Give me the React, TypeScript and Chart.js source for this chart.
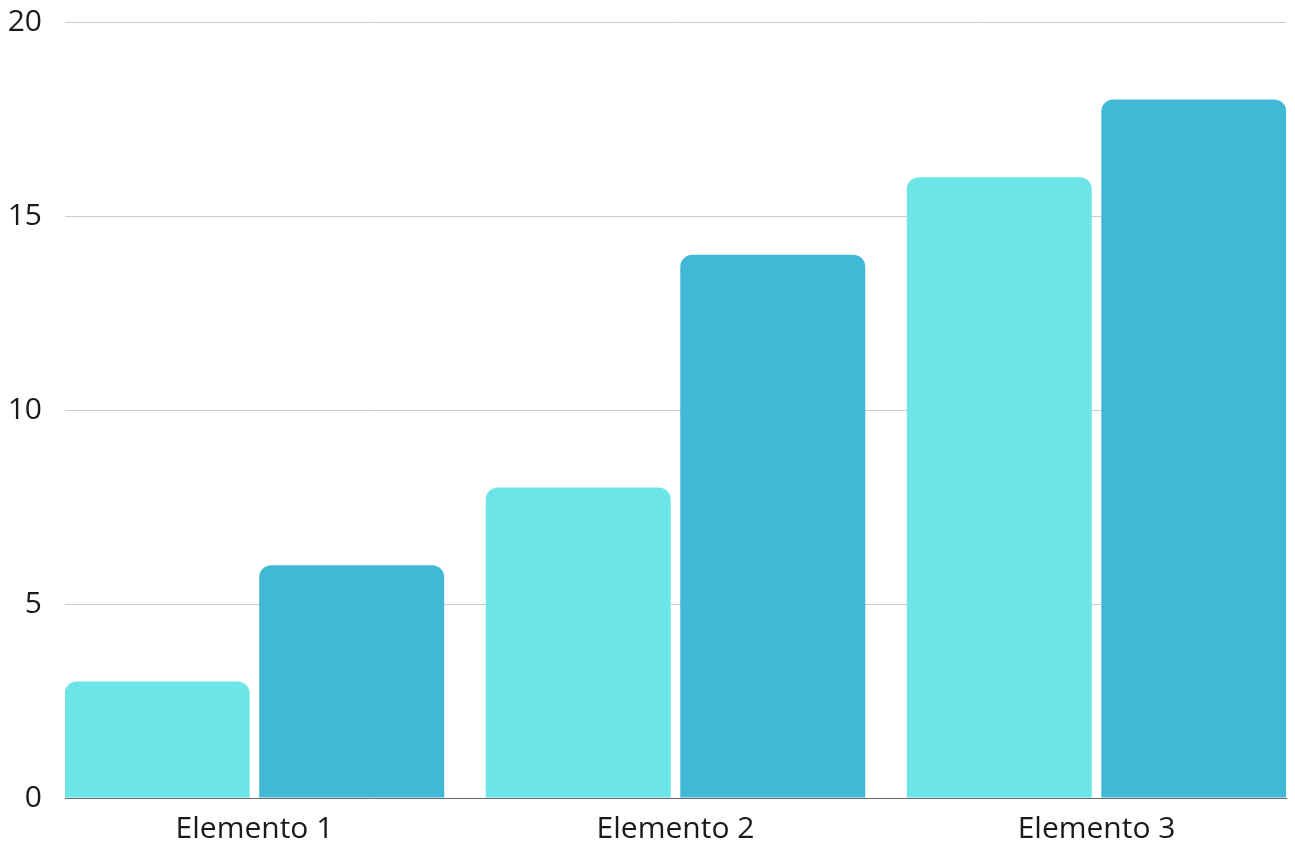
import React, { useEffect, useRef } from "react";
import { Chart, registerables } from "chart.js";

Chart.register(...registerables);

const categories = ["Elemento 1", "Elemento 2", "Elemento 3"];
const seriesA = [3, 8, 16];
const seriesB = [6, 14, 18];
const yTicks = [0, 5, 10, 15, 20];

export default function App() {
  const ref = useRef<HTMLCanvasElement | null>(null);

  useEffect(() => {
    document.body.style.margin = "0";
    if (!ref.current) return;
    const font = { family: "'Open Sans', sans-serif", size: 30 };
    const chart = new Chart(ref.current, {
      type: "bar",
      data: {
        datasets: [
          {
            label: "Serie 1",
            data: seriesA.map((v, i) => ({ x: i, y: v })),
            backgroundColor: "#6CE5E8",
            borderRadius: 12,
            borderSkipped: "start",
            categoryPercentage: 0.924,
            barPercentage: 0.951,
          },
          {
            label: "Serie 2",
            data: seriesB.map((v, i) => ({ x: i, y: v })),
            backgroundColor: "#41B8D5",
            borderRadius: 12,
            borderSkipped: "start",
            categoryPercentage: 0.924,
            barPercentage: 0.951,
          },
        ],
      },
      options: {
        animation: false,
        responsive: true,
        maintainAspectRatio: false,
        layout: { padding: { top: 22, right: 9, bottom: 0, left: 0 } },
        plugins: {
          legend: { display: false },
          tooltip: { enabled: false },
        },
        scales: {
          x: {
            type: "linear",
            min: -0.45,
            max: 2.45,
            offset: false,
            grid: { display: false, drawTicks: false },
            border: { display: true, color: "#666666", width: 1 },
            afterBuildTicks: (scale: any) => {
              scale.ticks = categories.map((_, i) => ({ value: i }));
            },
            afterFit: (scale: any) => {
              scale.height = 57;
              scale.paddingLeft = 0;
              scale.paddingRight = 0;
            },
            ticks: {
              font,
              color: "#1a1a1a",
              padding: 13,
              maxRotation: 0,
              autoSkip: false,
              callback: (v: any) => categories[Math.round(Number(v))] ?? "",
            },
          },
          y: {
            min: 0,
            max: 20,
            afterBuildTicks: (scale: any) => {
              scale.ticks = yTicks.map((v) => ({ value: v }));
            },
            afterFit: (scale: any) => {
              scale.width = 65;
              scale.paddingTop = 0;
              scale.paddingBottom = 0;
            },
            grid: { color: "#cccccc", lineWidth: 1, drawTicks: false },
            border: { display: false },
            ticks: {
              font,
              color: "#1a1a1a",
              padding: 23,
            },
          },
        },
      },
    } as any);
    return () => chart.destroy();
  }, []);

  return (
    <div style={{ position: "relative", width: 1295, height: 855 }}>
      <canvas ref={ref} />
    </div>
  );
}
